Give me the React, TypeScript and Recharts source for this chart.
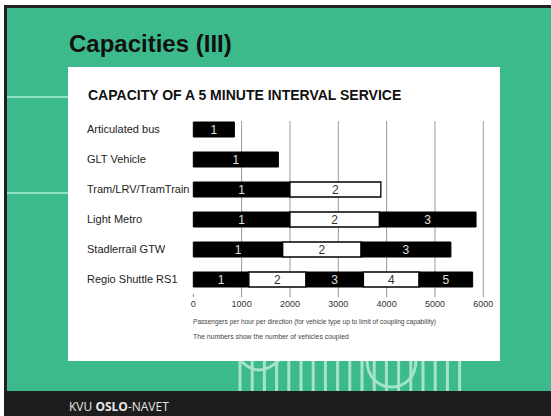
import { BarChart, Bar, XAxis, YAxis, CartesianGrid, LabelList } from 'recharts';

const categories = ['Articulated bus', 'GLT Vehicle', 'Tram/LRV/TramTrain', 'Light Metro', 'Stadlerrail GTW', 'Regio Shuttle RS1'];

// passengers per hour per direction with n vehicles coupled
const coupled1 = [850, 1760, 2000, 2000, 1850, 1150];
const coupled2 = [null, null, 3880, 3850, 3470, 2330];
const coupled3 = [null, null, null, 5850, 5330, 3520];
const coupled4 = [null, null, null, null, null, 4670];
const coupled5 = [null, null, null, null, null, 5780];

const xTicks = [0, 1000, 2000, 3000, 4000, 5000, 6000];

const levels = [coupled1, coupled2, coupled3, coupled4, coupled5];

// stacked segment lengths
const data = categories.map((name, i) => {
  const row: any = { name };
  levels.forEach((lvl, k) => {
    const prev = k === 0 ? 0 : (levels[k - 1][i] as number);
    const cur = lvl[i];
    row['s' + (k + 1)] = cur == null ? null : cur - prev;
  });
  return row;
});

const GREEN = '#3dba8b';
const FONT = '"Liberation Sans", Arial, sans-serif';

const CategoryTick = (props: any) => {
  const { y, payload } = props;
  return (
    <text x={87} y={y} dy={4} textAnchor="start" fontSize={11} fill="#222" fontFamily={FONT}>
      {payload.value}
    </text>
  );
};

const segmentLabel = (n: number, dark: boolean) => (props: any) => {
  const { x, y, width, height, value } = props;
  if (value == null || !width) return null;
  return (
    <text
      x={Number(x) + Number(width) / 2}
      y={Number(y) + Number(height) / 2}
      dy={4.5}
      textAnchor="middle"
      fontSize={12}
      fill={dark ? '#e0e0e0' : '#333'}
      fontFamily={FONT}
    >
      {n}
    </text>
  );
};

const stripes: number[] = [];
for (let x = 240; x <= 470; x += 12.2) stripes.push(x);

export default function App() {
  return (
    <div style={{ position: 'absolute', left: 0, top: 0, width: 551, height: 416, overflow: 'hidden', background: '#fff', fontFamily: FONT }}>
      {/* frame */}
      <div style={{ position: 'absolute', left: 4, top: 5, right: 0, bottom: 0, background: '#222' }} />
      <div style={{ position: 'absolute', left: 7, top: 8, right: 0, height: 383, background: GREEN }} />
      <div style={{ position: 'absolute', left: 4, top: 391, right: 0, bottom: 0, background: '#1d1d1d' }} />

      <svg style={{ position: 'absolute', left: 0, top: 0 }} width={551} height={416}>
        <line x1={7} x2={68} y1={97} y2={97} stroke="#8fe3c2" strokeWidth={2} />
        <line x1={7} x2={68} y1={193} y2={193} stroke="#8fe3c2" strokeWidth={2} />
        {stripes.map((x) => (
          <line key={x} x1={x} x2={x} y1={358} y2={391} stroke="#a6e4ca" strokeWidth={3} />
        ))}
        <path d="M240 360 Q 259 380 279 360" fill="none" stroke="#a6e4ca" strokeWidth={3} />
        <path d="M367 360 C 367 396, 416 396, 416 360" fill="none" stroke="#a6e4ca" strokeWidth={3} />
      </svg>

      <div style={{ position: 'absolute', left: 69, top: 30, fontSize: 24, fontWeight: 'bold', color: '#111', whiteSpace: 'nowrap' }}>
        Capacities (III)
      </div>

      <div style={{ position: 'absolute', left: 68, top: 67, width: 432, height: 294, background: '#fff' }} />

      <div style={{ position: 'absolute', left: 88, top: 87, fontSize: 14, fontWeight: 'bold', color: '#111', whiteSpace: 'nowrap' }}>
        CAPACITY OF A 5 MINUTE INTERVAL SERVICE
      </div>

      <div style={{ position: 'absolute', left: 0, top: 0 }}>
        <BarChart
          width={551}
          height={416}
          data={data}
          layout="vertical"
          margin={{ top: 114, right: 67.7, bottom: 102, left: 87.3 }}
        >
          <CartesianGrid
            horizontal={false}
            vertical={true}
            verticalValues={[1000, 2000, 3000, 4000, 5000, 6000]}
            y={121}
            height={173}
            stroke="#999"
            strokeWidth={1}
          />
          <XAxis
            type="number"
            domain={[0, 6000]}
            ticks={xTicks}
            axisLine={false}
            tickLine={{ stroke: '#888' }}
            tickSize={3}
            tickMargin={3.5}
            height={20}
            interval={0}
            tick={{ fontSize: 9, fill: '#333', fontFamily: FONT }}
          />
          <YAxis type="category" dataKey="name" width={106} axisLine={false} tickLine={false} tick={<CategoryTick />} interval={0} />
          <Bar dataKey="s1" stackId="a" fill="#000" stroke="#000" barSize={15} isAnimationActive={false}>
            <LabelList dataKey="s1" content={segmentLabel(1, true)} />
          </Bar>
          <Bar dataKey="s2" stackId="a" fill="#fff" stroke="#000" strokeWidth={1.3} barSize={15} isAnimationActive={false}>
            <LabelList dataKey="s2" content={segmentLabel(2, false)} />
          </Bar>
          <Bar dataKey="s3" stackId="a" fill="#000" stroke="#000" barSize={15} isAnimationActive={false}>
            <LabelList dataKey="s3" content={segmentLabel(3, true)} />
          </Bar>
          <Bar dataKey="s4" stackId="a" fill="#fff" stroke="#000" strokeWidth={1.3} barSize={15} isAnimationActive={false}>
            <LabelList dataKey="s4" content={segmentLabel(4, false)} />
          </Bar>
          <Bar dataKey="s5" stackId="a" fill="#000" stroke="#000" barSize={15} isAnimationActive={false}>
            <LabelList dataKey="s5" content={segmentLabel(5, true)} />
          </Bar>
        </BarChart>
      </div>

      <div style={{ position: 'absolute', left: 193, top: 318, fontSize: 6.6, color: '#444', whiteSpace: 'nowrap' }}>
        Passengers per hour per direction (for vehicle type up to limit of coupling capability)
      </div>
      <div style={{ position: 'absolute', left: 193, top: 333, fontSize: 6.9, color: '#444', whiteSpace: 'nowrap' }}>
        The numbers show the number of vehicles coupled
      </div>

      <div style={{ position: 'absolute', left: 69, top: 398, fontSize: 12, color: '#e8e8e8', fontFamily: '"Open Sans", sans-serif', whiteSpace: 'nowrap' }}>
        KVU <b>OSLO</b>-NAVET
      </div>
    </div>
  );
}
